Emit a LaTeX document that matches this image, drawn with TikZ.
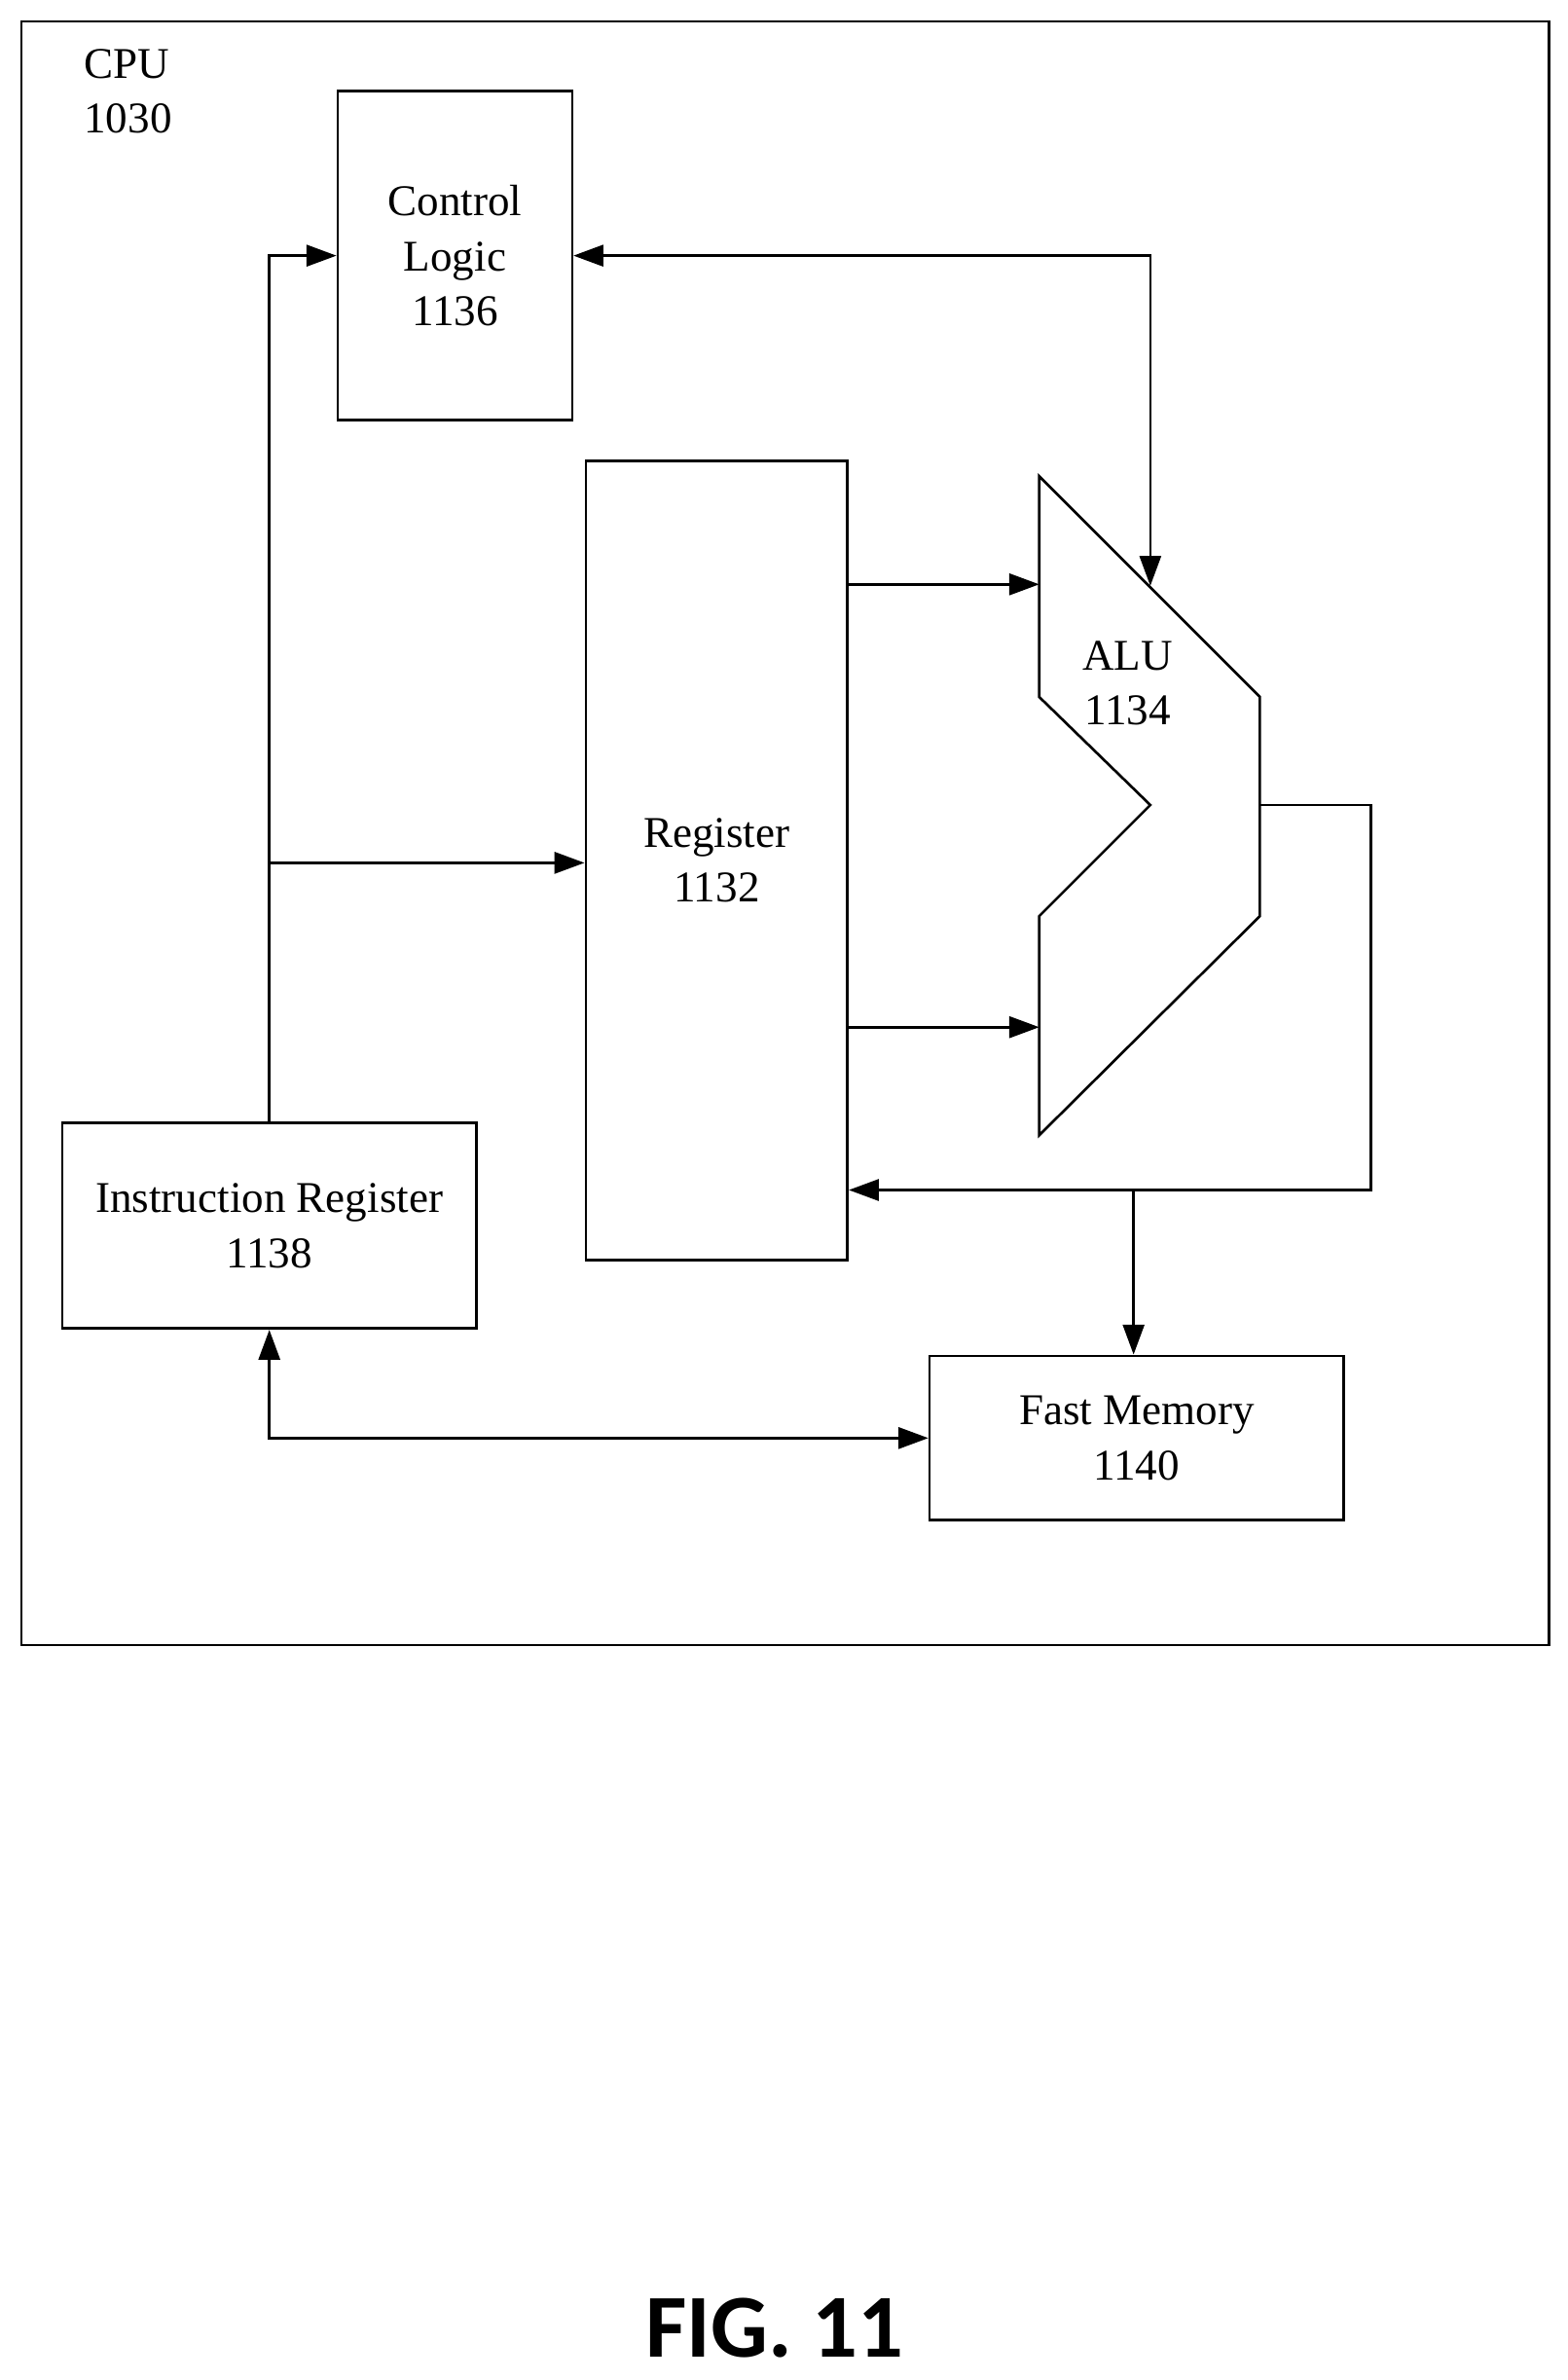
\documentclass[tikz,border=0pt]{standalone}
\usepackage{fontspec}
\setmainfont{Liberation Serif}
\newfontfamily\figfont{Carlito}
\usetikzlibrary{arrows.meta}
\begin{document}
\begin{tikzpicture}[x=0.025cm,y=-0.025cm,
    block/.style={draw, line width=1.2pt, inner sep=0pt, font=\fontsize{20.5}{25.6}\selectfont, align=center},
    arrow/.style={-{Triangle[length=14pt,width=10pt]}, line width=1.2pt},
    twoway/.style={{Triangle[length=14pt,width=10pt]}-{Triangle[length=14pt,width=10pt]}, line width=1.2pt}
]
\useasboundingbox (0,0) rectangle (1030,1564);
\draw[line width=1.2pt] (14,14) rectangle (1018,1081);
\node[anchor=north west, font=\fontsize{20.5}{25.6}\selectfont, align=left, inner sep=0pt] (cpu) at (55,32) {CPU\\1030};

% blocks
\node[block, minimum width=3.85cm, minimum height=5.4cm] (ctrl) at (299,168) {Control\\Logic\\1136};
\node[block, minimum width=4.3cm, minimum height=13.125cm] (reg) at (471,565.5) {Register\\1132};
\node[block, minimum width=6.8cm, minimum height=3.375cm] (ir) at (177,805.5) {Instruction Register\\1138};
\node[block, minimum width=6.8cm, minimum height=2.7cm] (fast) at (747,945) {Fast Memory\\1140};

% ALU
\draw[line width=1.2pt] (683,313) -- (828,458) -- (828,602) -- (683,746) -- (683,602)
    -- (756,529) -- (683,458) -- cycle;
\node[font=\fontsize{20.5}{25.6}\selectfont, align=center] (alu) at (741,449) {ALU\\1134};
\coordinate (aluin1) at (683,384);
\coordinate (aluin2) at (683,675);
\coordinate (alutop) at (756,385);
\coordinate (aluout) at (828,529);

% connectors
\coordinate (split) at (177,567);
\draw[arrow] (ir.north) |- (ctrl.west);
\draw[arrow] (split) -- (split -| reg.west);
\draw[twoway] (ctrl.east) -| (alutop);
\draw[arrow] (reg.east |- aluin1) -- (aluin1);
\draw[arrow] (reg.east |- aluin2) -- (aluin2);
\coordinate (back) at (901,782);
\coordinate (tap) at (745,782);
\draw[arrow] (aluout) -- (901,529) -- (back) -- (reg.east |- back);
\draw[arrow] (tap) -- (fast.north -| tap);
\draw[twoway] (ir.south) |- (fast.west);

\node[font=\figfont\bfseries\fontsize{42}{48}\selectfont] (fig) at (509,1530) {FIG. 11};
\end{tikzpicture}
\end{document}
